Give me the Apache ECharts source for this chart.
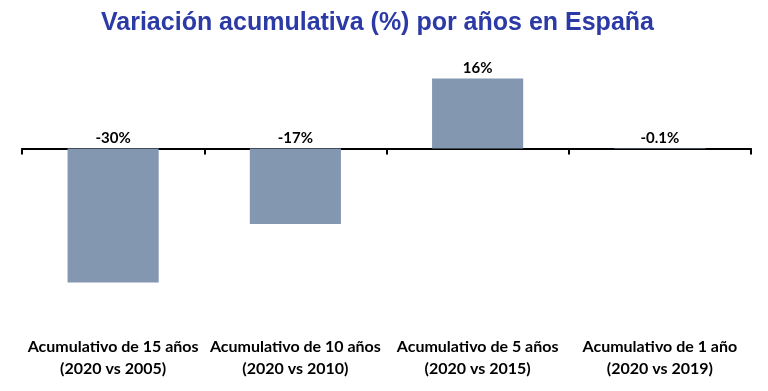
<!DOCTYPE html>
<html>
<head>
<meta charset="utf-8">
<script src="https://cdn.jsdelivr.net/npm/echarts@6/dist/echarts.min.js"></script>
<style>html,body{margin:0;padding:0;background:#fff}#c{width:768px;height:391px}</style>
</head>
<body>
<div id="c"></div>
<script>
const titleText = 'Variación acumulativa (%) por años en España';
const categories = ['Acumulativo de 15 años\n(2020 vs 2005)', 'Acumulativo de 10 años\n(2020 vs 2010)', 'Acumulativo de 5 años\n(2020 vs 2015)', 'Acumulativo de 1 año\n(2020 vs 2019)'];
const values = [-30, -16.9, 15.7, -0.1];
const valueLabels = ['-30%', '-17%', '16%', '-0.1%'];

const chart = echarts.init(document.getElementById('c'), null, {renderer: 'canvas'});
chart.setOption({
  animation: false,
  backgroundColor: '#ffffff',
  title: {
    text: titleText,
    left: 96,
    top: 6,
    textStyle: {fontFamily: 'Liberation Sans', fontWeight: 'bold', fontSize: 25, color: '#2C3AA6'}
  },
  grid: {left: 22, right: 17, top: 59.2, bottom: 63.8},
  xAxis: [{
    type: 'category',
    data: categories,
    position: 'bottom',
    axisLine: {onZero: true, lineStyle: {color: '#000', width: 2}},
    axisTick: {show: true, length: 6, lineStyle: {color: '#000', width: 2}},
    axisLabel: {show: false}
  }, {
    type: 'category',
    data: categories,
    position: 'bottom',
    axisLine: {show: false, onZero: false},
    axisTick: {show: false},
    axisLabel: {
      interval: 0,
      hideOverlap: false,
      margin: 9,
      fontFamily: 'Lato',
      fontWeight: 'bold',
      fontSize: 16,
      lineHeight: 22,
      color: '#000'
    }
  }],
  yAxis: {type: 'value', min: -40, max: 20, show: false, splitLine: {show: false}},
  series: [{
    type: 'bar',
    xAxisIndex: 0,
    data: values,
    barWidth: '50%',
    itemStyle: {color: '#8497B0'},
    label: {
      show: true,
      position: 'top',
      distance: 3,
      formatter: p => valueLabels[p.dataIndex],
      fontFamily: 'Lato',
      fontWeight: 'bold',
      fontSize: 15,
      color: '#000'
    }
  }]
});
</script>
</body>
</html>
